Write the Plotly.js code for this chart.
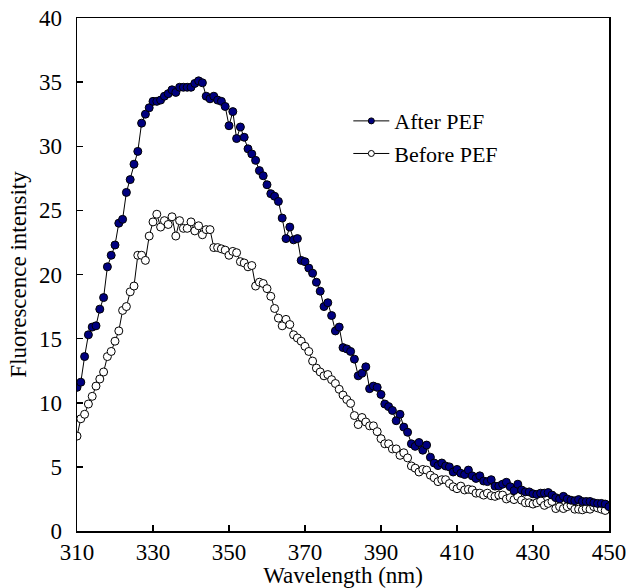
<!DOCTYPE html>
<html>
<head>
<meta charset="utf-8">
<script src="https://cdn.plot.ly/plotly-3.0.1.min.js"></script>
<style>html,body{margin:0;padding:0;background:#fff;}#chart{width:627px;height:588px;}</style>
</head>
<body>
<div id="chart"></div>
<script>
var wavelength = [310,311,312,313,314,315,316,317,318,319,320,321,322,323,324,325,326,327,328,329,
330,331,332,333,334,335,336,337,338,339,340,341,342,343,344,345,346,347,348,349,
350,351,352,353,354,355,356,357,358,359,360,361,362,363,364,365,366,367,368,369,
370,371,372,373,374,375,376,377,378,379,380,381,382,383,384,385,386,387,388,389,
390,391,392,393,394,395,396,397,398,399,400,401,402,403,404,405,406,407,408,409,
410,411,412,413,414,415,416,417,418,419,420,421,422,423,424,425,426,427,428,429,
430,431,432,433,434,435,436,437,438,439,440,441,442,443,444,445,446,447,448,449,450];

var afterPEF = [11.2,11.6,13.6,15.3,15.9,16.0,17.3,18.2,20.6,21.5,22.3,24.0,24.3,26.4,27.4,28.6,29.6,31.8,32.5,33.0,
33.5,33.5,33.6,33.9,34.1,34.4,34.2,34.6,34.6,34.6,34.6,34.9,35.1,34.95,33.9,33.7,33.9,33.6,33.5,33.1,
31.6,32.7,30.6,31.5,30.7,29.8,29.4,28.9,28.1,27.7,27.0,26.3,26.1,25.7,24.4,22.8,23.7,22.7,22.8,21.1,
21.0,20.5,20.1,19.4,18.7,17.5,17.8,16.8,15.6,15.9,14.3,14.2,14.0,13.4,12.1,12.3,12.8,11.1,11.3,11.2,
10.65,9.9,9.7,9.4,8.6,9.1,8.1,7.7,6.8,6.6,6.9,6.3,6.7,5.75,5.3,5.1,5.3,5.07,5.0,4.6,
4.8,4.5,4.4,4.75,4.3,4.1,4.3,3.9,3.85,4.0,3.5,3.5,3.65,3.8,3.45,3.15,3.65,3.2,3.05,3.05,
2.9,2.85,2.95,2.95,3.0,2.8,2.6,2.5,2.7,2.5,2.4,2.35,2.45,2.3,2.3,2.3,2.2,2.15,2.15,2.1,1.9];

var beforePEF = [7.4,8.75,9.1,9.9,10.5,11.3,11.85,12.4,13.6,14.0,14.8,15.6,17.2,17.5,18.65,19.1,21.5,21.5,21.1,23.0,
24.1,24.7,23.7,24.2,23.9,24.5,23.0,24.2,23.6,23.6,24.1,23.4,23.8,23.1,23.5,23.5,22.1,22.1,22.0,21.9,
21.5,21.8,21.7,21.0,20.9,20.6,20.7,19.1,19.4,19.3,18.9,18.3,17.35,16.6,16.0,16.5,16.1,15.3,15.05,14.8,
14.4,14.0,13.25,12.7,12.4,12.1,12.2,11.8,11.5,11.05,10.6,10.25,9.95,9.0,8.3,8.85,8.5,8.2,8.2,7.75,
7.2,6.8,6.8,6.4,6.4,5.9,6.1,5.7,5.07,4.9,4.6,4.8,4.75,4.35,4.15,3.85,4.0,4.0,3.7,3.45,
3.3,3.5,3.2,3.25,3.2,2.95,2.95,2.8,2.95,2.75,2.7,2.8,2.8,2.5,2.6,2.45,2.7,2.4,2.2,2.2,
2.1,2.2,2.35,2.0,2.15,2.3,1.75,1.9,1.75,1.9,2.0,1.7,1.7,1.65,1.75,1.7,1.9,1.8,1.7,1.6,2.0];

var seriesNames = ['After PEF', 'Before PEF'];
var xTicks = [310,330,350,370,390,410,430,450];
var yTicks = [0,5,10,15,20,25,30,35,40];

var FONT = 'Liberation Serif';
var navy = '#000080';

var traces = [
  {x: wavelength, y: beforePEF, type: 'scatter', mode: 'lines+markers', showlegend: false,
   line: {color: '#000', width: 1},
   marker: {size: 8, color: '#fff', line: {color: '#000', width: 1}}},
  {x: wavelength, y: afterPEF, type: 'scatter', mode: 'lines+markers', showlegend: false,
   line: {color: '#000', width: 1},
   marker: {size: 8, color: navy, line: {color: '#000', width: 1}}},
  {x: [null], y: [null], type: 'scatter', mode: 'lines+markers', name: seriesNames[0],
   legendgroup: 'a', line: {color: '#000', width: 1},
   marker: {size: 6, color: navy, line: {color: '#000', width: 1}}},
  {x: [null], y: [null], type: 'scatter', mode: 'lines+markers', name: seriesNames[1],
   legendgroup: 'b', line: {color: '#000', width: 1},
   marker: {size: 6, color: '#fff', line: {color: '#000', width: 1}}}
];

var layout = {
  width: 627, height: 588,
  margin: {l: 77, r: 18, t: 18, b: 57},
  paper_bgcolor: '#fff', plot_bgcolor: '#fff',
  font: {family: FONT, size: 23, color: '#000'},
  showlegend: true,
  legend: {x: 0.51, y: 0.84, xanchor: 'left', yanchor: 'top',
    bgcolor: 'rgba(0,0,0,0)', font: {family: FONT, size: 22, color: '#000'},
    itemwidth: 36,
    traceorder: 'grouped', tracegroupgap: 1},
  xaxis: {
    range: [310, 450], tickvals: xTicks, ticktext: xTicks.map(String),
    ticks: 'inside', ticklen: 6, tickwidth: 1.5, tickcolor: '#000',
    showline: true, linewidth: 1.5, linecolor: '#000', mirror: true,
    showgrid: false, zeroline: false,
    tickfont: {family: FONT, size: 23},
    title: {text: 'Wavelength (nm)', font: {family: FONT, size: 23}, standoff: 6}
  },
  yaxis: {
    range: [0, 40], tickvals: yTicks, ticktext: yTicks.map(String),
    ticks: 'inside', ticklen: 6, tickwidth: 1.5, tickcolor: '#000',
    showline: true, linewidth: 1.5, linecolor: '#000', mirror: true,
    showgrid: false, zeroline: false,
    tickfont: {family: FONT, size: 23},
    ticklabelstandoff: 9,
    title: {text: 'Fluorescence intensity', font: {family: FONT, size: 23}, standoff: 6}
  }
};

Plotly.newPlot('chart', traces, layout, {displayModeBar: false, staticPlot: true});
</script>
</body>
</html>
